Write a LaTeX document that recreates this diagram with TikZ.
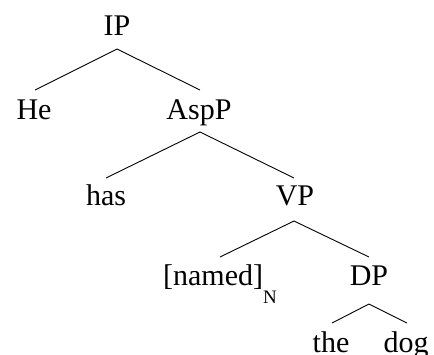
\documentclass[tikz,border=0pt]{standalone}
\usepackage{fontspec}
\setmainfont{Liberation Serif}
\begin{document}
\begin{tikzpicture}[x=1pt,y=-1pt,
  lbl/.style={anchor=base,inner sep=0pt,font=\fontsize{30}{36}\selectfont},
  edge/.style={line width=0.9pt}]
\useasboundingbox (0,0) rectangle (434,354);
% tree labels, placed on their baselines
\node[lbl] (ip)    at (117,35)  {IP};
\node[lbl] (he)    at (34,119)  {He};
\node[lbl] (asp)   at (199,119) {AspP};
\node[lbl] (has)   at (106,205) {has};
\node[lbl] (vp)    at (295,205) {VP};
\node[lbl] (named) at (220,285) {[named]\raisebox{-18pt}{\fontsize{19}{20}\selectfont N}};
\node[lbl] (dp)    at (369,285) {DP};
\node[lbl] (the)   at (331,352) {the};
\node[lbl] (dog)   at (406,352) {dog};
% branches
\draw[edge] ([yshift=-14pt]ip.base) -- ([xshift=1pt,yshift=29pt]he.base);
\draw[edge] ([yshift=-14pt]ip.base) -- ([xshift=1pt,yshift=29pt]asp.base);
\draw[edge] ([xshift=1pt,yshift=-13pt]asp.base) -- ([yshift=27pt]has.base);
\draw[edge] ([xshift=1pt,yshift=-13pt]asp.base) -- ([xshift=-1pt,yshift=27pt]vp.base);
\draw[edge] ([xshift=-1pt,yshift=-16pt]vp.base) -- ([yshift=28pt]named.base);
\draw[edge] ([xshift=-1pt,yshift=-16pt]vp.base) -- ([yshift=28pt]dp.base);
\draw[edge] ([yshift=-19pt]dp.base) -- ([xshift=1pt,yshift=29pt]the.base);
\draw[edge] ([yshift=-19pt]dp.base) -- ([xshift=1pt,yshift=29pt]dog.base);
\end{tikzpicture}
\end{document}
